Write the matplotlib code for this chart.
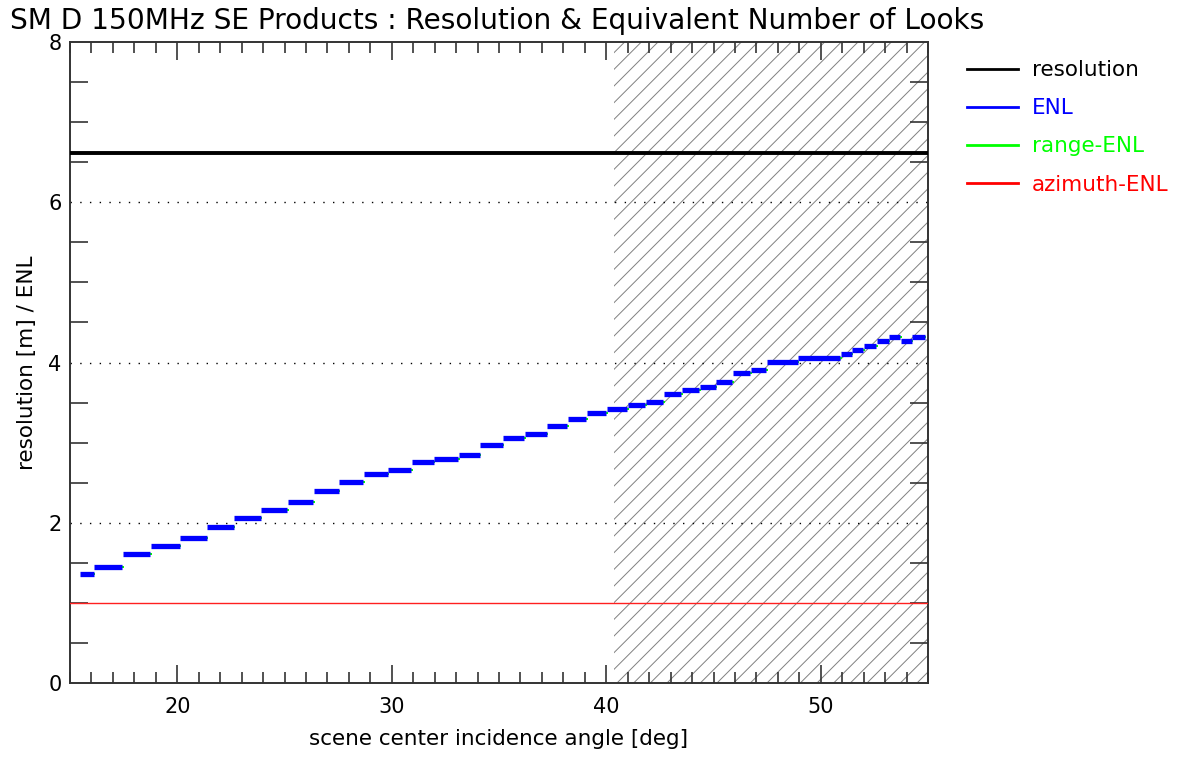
import matplotlib
matplotlib.use("Agg")
import matplotlib.pyplot as plt
from matplotlib.lines import Line2D
from matplotlib.ticker import MultipleLocator
import numpy as np

# ENL step segments: start/end incidence angle and ENL value
enl_edges = [15.47, 16.13, 17.45, 18.77, 20.15, 21.40, 22.66, 23.92, 25.16, 26.36,
             27.56, 28.70, 29.84, 30.92, 31.99, 33.13, 34.13, 35.20, 36.21, 37.25,
             38.20, 39.09, 40.04, 41.00, 41.85, 42.67, 43.51, 44.35, 45.13, 45.90,
             46.73, 47.48, 48.95, 50.94, 51.47, 52.01, 52.60, 53.19, 53.73, 54.27, 54.87]
enl_values = [1.36, 1.45, 1.61, 1.71, 1.81, 1.95, 2.06, 2.16, 2.26, 2.40,
              2.51, 2.61, 2.66, 2.76, 2.80, 2.85, 2.97, 3.06, 3.11, 3.21,
              3.30, 3.37, 3.42, 3.47, 3.51, 3.61, 3.66, 3.70, 3.76, 3.87,
              3.91, 4.01, 4.06, 4.11, 4.16, 4.20, 4.27, 4.32, 4.27, 4.32]
resolution_value = 6.62
azimuth_enl_value = 1.0
hatch_start = 40.35
x_range = [15, 55]
y_range = [0, 8]
x_ticks = [20, 30, 40, 50]
y_ticks = [0, 2, 4, 6, 8]

plt.rcParams['font.family'] = ['DejaVu Sans']
plt.rcParams['hatch.linewidth'] = 0.7
fig = plt.figure(figsize=(11.89, 7.58), dpi=100)
ax = fig.add_axes([0.0589, 0.0989, 0.7216, 0.8457])

# hatched region
ax.fill_between([hatch_start, x_range[1]], y_range[0], y_range[1], facecolor='none',
                edgecolor='#808080', hatch='//', linewidth=0, zorder=1)

# dotted grid at major y ticks
for yv in y_ticks[1:-1]:
    ax.axhline(yv, color='black', linestyle=(0, (1, 6)), linewidth=1.0, zorder=2)

# resolution line
ax.axhline(resolution_value, color='black', linewidth=2.8, zorder=3)
# azimuth ENL line
ax.axhline(azimuth_enl_value, color='#ff2020', linewidth=1.0, zorder=3)

starts = np.array(enl_edges[:-1])
ends = np.array(enl_edges[1:])
vals = np.array(enl_values)
ax.plot(ends, vals, linestyle='none', marker='s', markersize=1.6, color='#00ff00',
        markeredgewidth=0, zorder=3)
ax.hlines(vals, starts, ends - 0.03, colors='#0000ff', linewidth=3.8, zorder=4)

ax.set_xlim(x_range)
ax.set_ylim(y_range)
ax.set_xticks(x_ticks)
ax.set_yticks(y_ticks)
ax.xaxis.set_minor_locator(MultipleLocator(1))
ax.yaxis.set_minor_locator(MultipleLocator(0.5))
ax.tick_params(axis='x', which='major', direction='in', length=13, width=1.2,
               top=True, bottom=True, labelsize=15, pad=10, color='#333333')
ax.tick_params(axis='x', which='minor', direction='in', length=8, width=1.2,
               top=True, bottom=True, color='#333333')
ax.tick_params(axis='y', which='major', direction='in', length=0,
               left=True, right=True, labelsize=15, pad=6)
ax.tick_params(axis='y', which='minor', direction='in', length=13, width=1.2,
               left=True, right=True, color='#333333')
for s in ax.spines.values():
    s.set_linewidth(1.4)
    s.set_color('#333333')

ax.set_xlabel('scene center incidence angle [deg]', fontsize=15.5, labelpad=9)
ax.set_ylabel('resolution [m] / ENL', fontsize=15.5, labelpad=8)
fig.text(0.008, 0.972, 'SM D 150MHz SE Products : Resolution & Equivalent Number of Looks',
         fontsize=20.2, ha='left', va='center')

handles = [Line2D([], [], color='black', linewidth=2),
           Line2D([], [], color='#0000ff', linewidth=2),
           Line2D([], [], color='#00ff00', linewidth=2),
           Line2D([], [], color='#ff0000', linewidth=2)]
labels = ['resolution', 'ENL', 'range-ENL', 'azimuth-ENL']
fig.legend(handles, labels, loc='upper left', bbox_to_anchor=(0.797, 0.946),
           frameon=False, fontsize=15.5, labelcolor='linecolor', handlelength=2.35,
           handletextpad=0.65, labelspacing=0.84)

fig.savefig('out.png', dpi=100)
